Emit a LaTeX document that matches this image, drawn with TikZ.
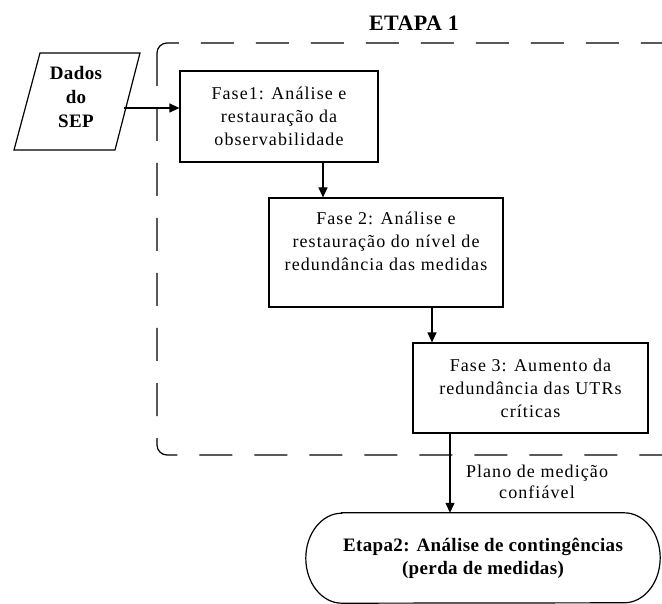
\documentclass[tikz,border=0pt]{standalone}
\usepackage{fontspec}
\setmainfont{Liberation Serif}[LetterSpace=6]
\newfontfamily\boldserif{Liberation Serif}[LetterSpace=2]
\usetikzlibrary{arrows.meta}
\tikzset{
  phasebox/.style={draw, line width=1.2pt, minimum width=#1, align=center, inner sep=0pt, font=\fontsize{18}{23}\selectfont},
  arr/.style={line width=1.2pt, -{Triangle[length=10pt,width=9pt]}},
  etapa/.style={draw, line width=1.2pt, dash pattern=on 33pt off 22pt, rounded corners=10pt},
}
\begin{document}
\begin{tikzpicture}[x=1pt,y=-1pt]
\useasboundingbox (0,0) rectangle (662,604);
\clip (0,0) rectangle (662,604);
% dashed stage frame
\draw[etapa] (157,43) rectangle (730,455);
\node[font=\boldserif\bfseries\fontsize{22}{26}\selectfont] (t1) at (414,23) {ETAPA 1};
% input parallelogram
\coordinate (p1) at (40,53);
\coordinate (p2) at (140,53);
\coordinate (p3) at (115,150);
\coordinate (p4) at (14,150);
\draw[line width=1.2pt] (p1) -- (p2) -- (p3) -- (p4) -- cycle;
\node[align=center, font=\boldserif\bfseries\fontsize{19}{24}\selectfont] (dados) at (76,97) {Dados\\do\\SEP};
\coordinate (d1) at (124,108);
% phase boxes
\node[phasebox=198pt, minimum height=91pt] (f1) at (279,116.5) {Fase1: Análise e\\restauração da\\observabilidade};
\node[phasebox=234pt, minimum height=109pt] (f2) at (386,252.5) {Fase 2: Análise e\\restauração do nível de\\redundância das medidas\\ \mbox{}};
\node[phasebox=235pt, minimum height=90pt] (f3) at (530.5,388) {Fase 3: Aumento da\\redundância das UTRs\\críticas};
% final stage
\node[minimum width=354pt, minimum height=90pt, inner sep=0pt, align=center, font=\boldserif\bfseries\fontsize{19}{23}\selectfont] (et2) at (483,558) {Etapa2: Análise de contingências\\(perda de medidas)};
\draw[line width=1.2pt] ([xshift=36pt]et2.north west) -- ([xshift=-36pt]et2.north east)
  arc[start angle=90, end angle=-90, x radius=36pt, y radius=45pt]
  -- ([xshift=36pt]et2.south west)
  arc[start angle=270, end angle=90, x radius=36pt, y radius=45pt] -- cycle;
% connector x positions
\coordinate (c12) at (323,0);
\coordinate (c23) at (432,0);
\coordinate (c3e) at (450,0);
\draw[arr] (d1) -- (f1.west |- d1);
\draw[arr] (f1.south -| c12) -- (f2.north -| c12);
\draw[arr] (f2.south -| c23) -- (f3.north -| c23);
\draw[arr] (f3.south -| c3e) -- (et2.north -| c3e);
\node[align=center, font=\fontsize{18}{21}\selectfont] (lbl) at (537,482) {Plano de medição\\confiável};
\end{tikzpicture}
\end{document}
